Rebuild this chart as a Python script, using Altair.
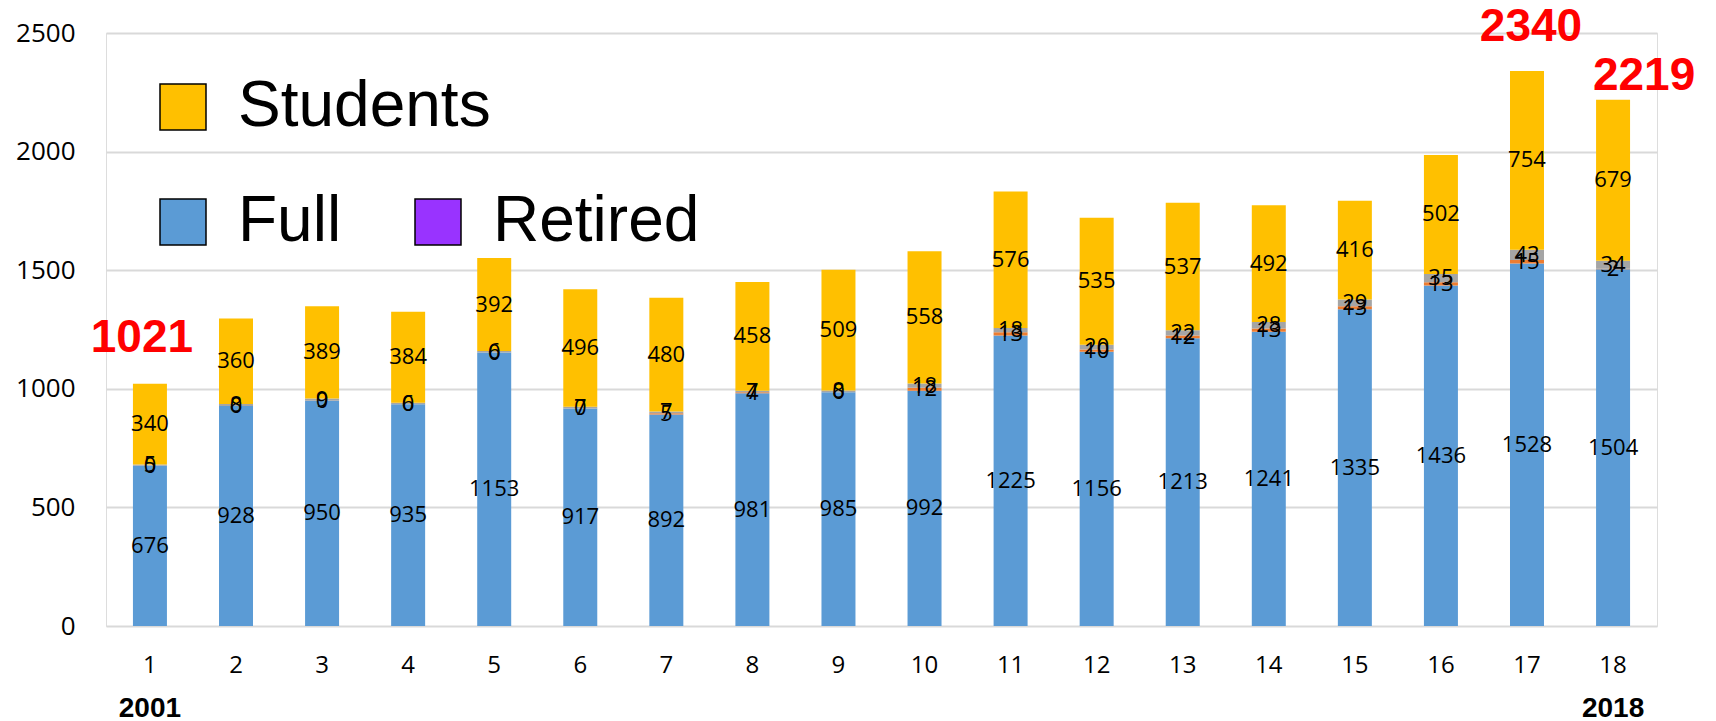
import altair as alt
import pandas as pd

years = list(range(1, 19))
full = [676, 928, 950, 935, 1153, 917, 892, 981, 985, 992, 1225, 1156, 1213, 1241, 1335, 1436, 1528, 1504]
retired = [0, 0, 0, 0, 0, 0, 5, 4, 0, 12, 13, 10, 12, 13, 13, 13, 15, 2]
other = [5, 8, 9, 6, 6, 7, 7, 7, 8, 18, 18, 20, 22, 28, 29, 35, 43, 34]
students = [340, 360, 389, 384, 392, 496, 480, 458, 509, 558, 576, 535, 537, 492, 416, 502, 754, 679]

series_names = ["Full", "Retired", "Other", "Students"]
series_colors = ["#5B9BD5", "#ED7D31", "#A5A5A5", "#FFC000"]

total_x = [1, 17, 18]
total_val = [1021, 2340, 2219]

year_x = [1, 18]
year_lab = ["2001", "2018"]

legend1_names = ["Students"]
legend1_colors = ["#FFC000"]
legend2_names = ["Full", "Retired"]
legend2_colors = ["#5B9BD5", "#9933FF"]

rows = []
for i, x in enumerate(years):
    for k, (nm, vals) in enumerate(zip(series_names, [full, retired, other, students])):
        rows.append({"x": x, "series": nm, "order": k, "value": vals[i]})
df = pd.DataFrame(rows)

W, H = 1551, 593

base = alt.Chart(df).transform_stack(
    stack="value", groupby=["x"], as_=["v0", "v1"], sort=[alt.SortField("order")]
).transform_calculate(mid="(datum.v0 + datum.v1) / 2")

xenc = alt.X(
    "x:O",
    title=None,
    scale=alt.Scale(paddingInner=0.605, paddingOuter=0.313),
    axis=alt.Axis(labelAngle=0, labelFont="Open Sans", labelFontSize=24, labelColor="#000000",
                  labelPadding=27, ticks=False, domain=False, grid=False),
)
yscale = alt.Scale(domain=[0, 2500])

bars = base.mark_bar().encode(
    x=xenc,
    y=alt.Y("v0:Q", title=None, scale=yscale,
            axis=alt.Axis(values=[0, 500, 1000, 1500, 2000, 2500], format="d", labelFont="Open Sans",
                          labelFontSize=26, labelColor="#000000", labelPadding=31,
                          ticks=False, domain=False, gridColor="#D9D9D9", gridWidth=2)),
    y2="v1:Q",
    color=alt.Color("series:N", scale=alt.Scale(domain=series_names, range=series_colors), legend=None),
)

labels = base.mark_text(font="Open Sans", fontSize=22, color="#000000", baseline="middle").encode(
    x=alt.X("x:O"),
    y=alt.Y("mid:Q", scale=yscale),
    text=alt.Text("value:Q"),
)

tot_df = pd.DataFrame({"x": total_x, "total": total_val})
offsets = {1: (-8, -32), 17: (4, -30), 18: (31, -10)}
tot_layers = []
for xv, (ddx, ddy) in offsets.items():
    tot_layers.append(
        alt.Chart(tot_df).transform_filter(alt.datum.x == xv).mark_text(
            font="Liberation Sans", fontWeight="bold", fontSize=46, color="#FF0000",
            baseline="alphabetic", dx=ddx, dy=ddy
        ).encode(x=alt.X("x:O"), y=alt.Y("total:Q", scale=yscale), text=alt.Text("total:Q"))
    )

yr_df = pd.DataFrame({"x": year_x, "lab": year_lab})
yr = alt.Chart(yr_df).mark_text(
    font="Liberation Sans", fontWeight="bold", fontSize=28, color="#000000", baseline="middle"
).encode(x=alt.X("x:O"), y=alt.value(H + 83), text="lab:N")

leg_common = dict(
    orient="none", title=None, direction="horizontal", padding=0,
    symbolType="square", symbolSize=2116, symbolStrokeColor="#000000", symbolStrokeWidth=1.5,
    symbolOpacity=1, labelFont="Liberation Sans", labelFontSize=64, labelColor="#000000",
    labelOffset=23, columnPadding=64, labelLimit=400,
)

leg1 = alt.Chart(pd.DataFrame({"name": legend1_names})).mark_square(opacity=0).encode(
    color=alt.Color("name:N", scale=alt.Scale(domain=legend1_names, range=legend1_colors),
                    legend=alt.Legend(legendX=45, legendY=42, **leg_common))
)
leg2 = alt.Chart(pd.DataFrame({"name": legend2_names})).mark_square(opacity=0).encode(
    color=alt.Color("name:N", scale=alt.Scale(domain=legend2_names, range=legend2_colors),
                    legend=alt.Legend(legendX=45, legendY=157, **leg_common))
)

chart = alt.layer(bars, labels, *tot_layers, yr, leg1, leg2).resolve_scale(
    color="independent"
).properties(
    width=W, height=H,
    autosize=alt.AutoSizeParams(type="none"),
    padding={"left": 98, "top": 25, "right": 51, "bottom": 100},
).configure_view(stroke=None).configure(background="white")

chart.save("out.html", embed_options={"renderer": "svg", "actions": False})
